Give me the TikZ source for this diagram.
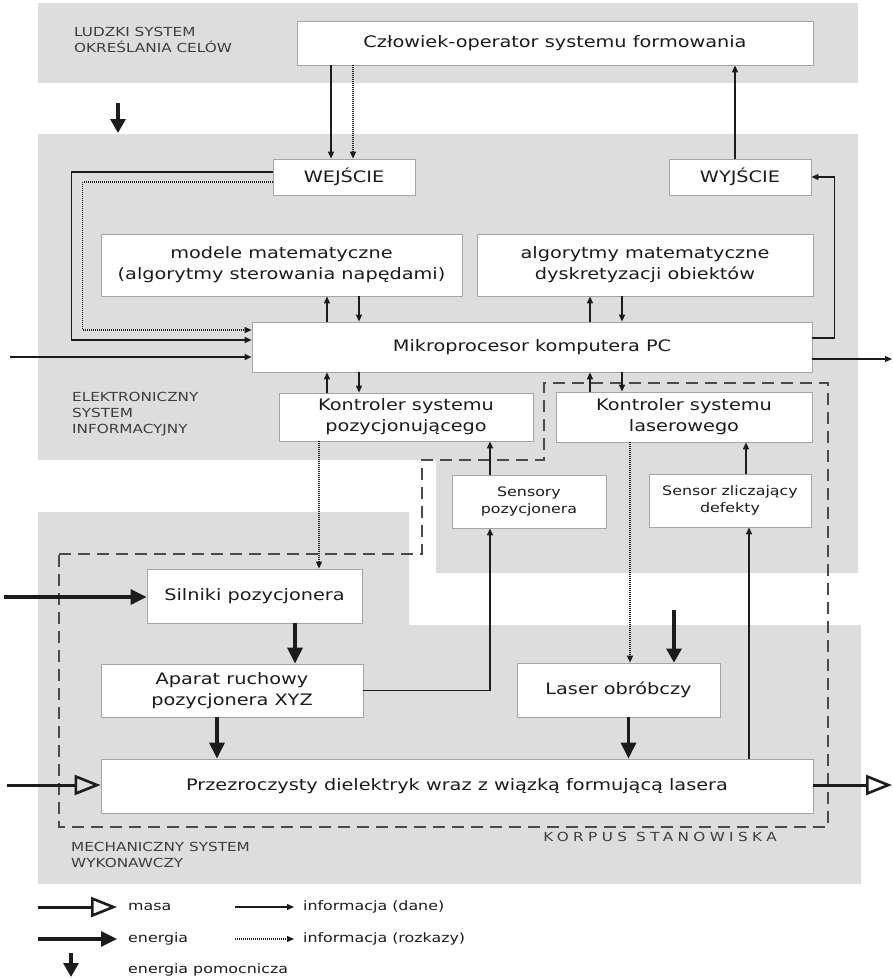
\documentclass[tikz,border=0pt]{standalone}
\usepackage{fontspec}
\setmainfont{DejaVu Sans}[FakeStretch=1.22]
\newfontfamily\rozstrzelony{DejaVu Sans}[FakeStretch=1.22,LetterSpace=35]
\usetikzlibrary{arrows.meta,calc}
\definecolor{tlo}{RGB}{221,221,221}
\definecolor{ramka}{RGB}{165,165,165}
\definecolor{linia}{RGB}{30,27,28}

\tikzset{
	blok/.style={draw=ramka, line width=0.8pt, fill=white, align=center, text=linia, font=\fontsize{15.8}{21}\selectfont},
	blokmaly/.style={blok, font=\fontsize{13}{17}\selectfont},
	obszar/.style={anchor=west, align=left, inner sep=0pt, text=linia!85, font=\fontsize{12.5}{16}\selectfont},
	legenda/.style={anchor=west, inner sep=0pt, text=linia, font=\fontsize{13}{16}\selectfont},
	dane/.style={draw=linia, line width=1.2pt, -{Triangle[length=7pt,width=6pt]}},
	rozkazy/.style={dane, dash pattern=on 1pt off 1pt},
	energia/.style={draw=linia, line width=3.2pt, -{Triangle[length=16pt,width=15pt]}},
	pomocnicza/.style={draw=linia, line width=3.2pt, -{Triangle[length=14pt,width=15pt]}},
	masa/.style={draw=linia, line width=3pt, -{Triangle[open,length=26pt,width=20pt,line width=2.6pt]}},
}

\begin{document}
\begin{tikzpicture}[x=1pt,y=-1pt]
		%%%%% START %%%%%
		\useasboundingbox (0,0) rectangle (893,978);
		
		% szare pola systemow
		\fill[tlo] (38,3) rectangle (858,83);
		\fill[tlo] (38,134) -- (858,134) -- (858,573) -- (436,573) -- (436,460) -- (38,460) -- cycle;
		\fill[tlo] (38,512) -- (409,512) -- (409,625) -- (861,625) -- (861,884) -- (38,884) -- cycle;
		
		\node[obszar] (ludzki) at (74,40) {LUDZKI SYSTEM\\OKREŚLANIA CELÓW};
		\node[obszar] (elektr) at (72,414) {ELEKTRONICZNY\\SYSTEM\\INFORMACYJNY};
		\node[obszar] (mechan) at (71,855) {MECHANICZNY SYSTEM\\WYKONAWCZY};
		
		% korpus stanowiska
		\draw[linia!80, line width=1.4pt, dash pattern=on 12pt off 7pt] (59,554) -- (422,554) -- (422,460) -- (544,460) -- (544,383) -- (828,383) -- (828,827) -- (59,827) -- cycle;
		\node[inner sep=0pt, text=linia!85, font=\rozstrzelony\fontsize{12.5}{15}\selectfont] (korpus) at (660,837) {KORPUS STANOWISKA};
		
		% bloki
		\node[blok, minimum width=516pt, minimum height=44pt] (czlowiek) at (555,43) {Człowiek-operator systemu formowania};
		\node[blok, minimum width=142pt, minimum height=36pt] (wejscie) at (344,177) {WEJŚCIE};
		\node[blok, minimum width=142pt, minimum height=36pt] (wyjscie) at (740,177) {WYJŚCIE};
		\node[blok, minimum width=361pt, minimum height=62pt] (modele) at (281.5,265) {modele matematyczne\\(algorytmy sterowania napędami)};
		\node[blok, minimum width=336pt, minimum height=62pt] (algorytmy) at (645,265) {algorytmy matematyczne\\dyskretyzacji obiektów};
		\node[blok, minimum width=560pt, minimum height=50pt] (mikro) at (532,347) {Mikroprocesor komputera PC};
		\node[blok, minimum width=254pt, minimum height=48pt] (kpoz) at (406,417) {Kontroler systemu\\pozycjonującego};
		\node[blok, minimum width=256pt, minimum height=50pt] (klas) at (684,417) {Kontroler systemu\\laserowego};
		\node[blokmaly, minimum width=154pt, minimum height=53pt] (senspoz) at (529,501.5) {Sensory\\pozycjonera};
		\node[blokmaly, minimum width=162pt, minimum height=53pt] (sensdef) at (730,500.5) {Sensor zliczający\\defekty};
		\node[blok, minimum width=215pt, minimum height=54pt] (silniki) at (254.5,596) {Silniki pozycjonera};
		\node[blok, minimum width=262pt, minimum height=53pt] (aparat) at (232,690.5) {Aparat ruchowy\\pozycjonera XYZ};
		\node[blok, minimum width=203pt, minimum height=54pt] (laser) at (618.5,690) {Laser obróbczy};
		\node[blok, minimum width=712pt, minimum height=54pt] (dielektryk) at (457,786) {Przezroczysty dielektryk wraz z wiązką formującą lasera};
		
		% punkty swobodnych koncow
		\coordinate (wePC) at (10,357);
		\coordinate (wyPC) at (892,359);
		\coordinate (weEn) at (4,597);
		\coordinate (weMasa) at (7,785);
		\coordinate (wyMasa) at (892,785);
		\coordinate (pomGora) at (118,103);
		\coordinate (pomGoraK) at (118,133);
		\coordinate (pomLaser) at (674,610);
		
		% informacja: czlowiek <-> wejscie/wyjscie
		\draw[dane] ([xshift=-13pt]wejscie.north |- czlowiek.south) -- ([xshift=-13pt]wejscie.north);
		\draw[rozkazy] ([xshift=9pt]wejscie.north |- czlowiek.south) -- ([xshift=9pt]wejscie.north);
		\draw[dane] ([xshift=-5pt]wyjscie.north) -- ([xshift=-5pt]wyjscie.north |- czlowiek.south);
		
		% wejscie -> mikroprocesor
		\draw[dane] ([yshift=5pt]wejscie.west) -| ([xshift=-180pt,yshift=7pt]mikro.west) -- ([yshift=7pt]mikro.west);
		\draw[rozkazy] ([yshift=-5pt]wejscie.west) -| ([xshift=-169pt,yshift=17pt]mikro.west) -- ([yshift=17pt]mikro.west);
		\draw[dane] (wePC) -- (wePC -| mikro.west);
		
		% mikroprocesor -> wyjscie
		\draw[dane] ([yshift=9pt]mikro.east) -- ++(22,0) |- (wyjscie.east);
		\draw[dane] (wyPC -| mikro.east) -- (wyPC);
		
		% mikroprocesor <-> modele, algorytmy
		\draw[dane] ([xshift=-205pt]mikro.north) -- ([xshift=-205pt]mikro.north |- modele.south);
		\draw[dane] ([xshift=-173pt]mikro.north |- modele.south) -- ([xshift=-173pt]mikro.north);
		\draw[dane] ([xshift=58pt]mikro.north) -- ([xshift=58pt]mikro.north |- algorytmy.south);
		\draw[dane] ([xshift=90pt]mikro.north |- algorytmy.south) -- ([xshift=90pt]mikro.north);
		
		% mikroprocesor <-> kontrolery
		\draw[dane] ([xshift=-205pt]mikro.south |- kpoz.north) -- ([xshift=-205pt]mikro.south);
		\draw[dane] ([xshift=-173pt]mikro.south) -- ([xshift=-173pt]mikro.south |- kpoz.north);
		\draw[dane] ([xshift=58pt]mikro.south |- klas.north) -- ([xshift=58pt]mikro.south);
		\draw[dane] ([xshift=90pt]mikro.south) -- ([xshift=90pt]mikro.south |- klas.north);
		
		% sensory -> kontrolery
		\draw[dane] ([xshift=-39pt]senspoz.north) -- ([xshift=-39pt]senspoz.north |- kpoz.south);
		\draw[dane] ([xshift=16pt]sensdef.north) -- ([xshift=16pt]sensdef.north |- klas.south);
		
		% rozkazy do wykonawczych
		\draw[rozkazy] ([xshift=-87pt]kpoz.south) -- ([xshift=-87pt]kpoz.south |- silniki.north);
		\draw[rozkazy] ([xshift=-54pt]klas.south) -- ([xshift=-54pt]klas.south |- laser.north);
		
		% sprzezenia zwrotne
		\draw[dane] (aparat.east) -| ([xshift=-39pt]senspoz.south);
		\draw[dane] ([xshift=19pt]sensdef.south |- dielektryk.north) -- ([xshift=19pt]sensdef.south);
		
		% energia
		\draw[energia] (weEn) -- (weEn -| silniki.west);
		\draw[energia] ([xshift=40.5pt]silniki.south) -- ([xshift=40.5pt]silniki.south |- aparat.north);
		\draw[energia] ([xshift=-15pt]aparat.south) -- ([xshift=-15pt]aparat.south |- dielektryk.north);
		\draw[energia] ([xshift=10pt]laser.south) -- ([xshift=10pt]laser.south |- dielektryk.north);
		\draw[pomocnicza] (pomLaser) -- (pomLaser |- laser.north);
		\draw[pomocnicza] (pomGora) -- (pomGoraK);
		
		% masa
		\draw[masa] (weMasa) -- (weMasa -| dielektryk.west);
		\draw[masa] (wyMasa -| dielektryk.east) -- (wyMasa);
		
		% legenda
		\coordinate (lA1) at (38,907); \coordinate (lA2) at (117,907);
		\coordinate (lB1) at (38,939); \coordinate (lB2) at (117,939);
		\coordinate (lC1) at (71,953); \coordinate (lC2) at (71,977);
		\coordinate (lD1) at (235,907); \coordinate (lD2) at (294,907);
		\coordinate (lE1) at (235,939); \coordinate (lE2) at (294,939);
		\draw[masa] (lA1) -- (lA2);
		\draw[energia] (lB1) -- (lB2);
		\draw[pomocnicza] (lC1) -- (lC2);
		\draw[dane] (lD1) -- (lD2);
		\draw[rozkazy] (lE1) -- (lE2);
		\node[legenda] (lmasa) at (128,907) {masa};
		\node[legenda] (lenergia) at (128,939) {energia};
		\node[legenda] (lpomoc) at (128,970) {energia pomocnicza};
		\node[legenda] (ldane) at (303,907) {informacja (dane)};
		\node[legenda] (lrozkazy) at (303,939) {informacja (rozkazy)};
		
		%%%%% END %%%%%
\end{tikzpicture}
\end{document}
